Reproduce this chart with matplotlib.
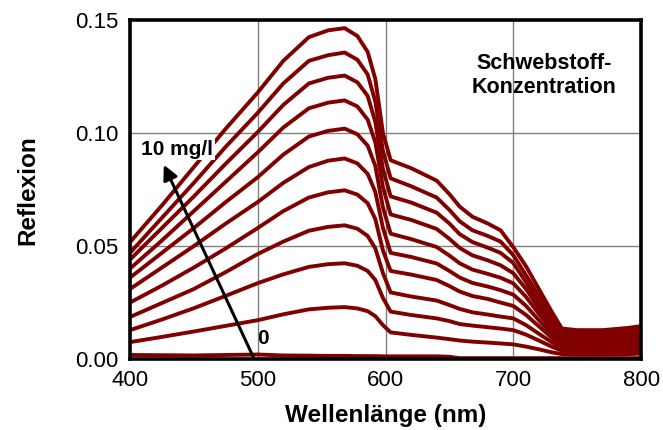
import numpy as np
import matplotlib
matplotlib.use("Agg")
import matplotlib.pyplot as plt

wl = [400, 425, 450, 475, 500, 520, 540, 555, 568, 578, 586, 592, 598, 604, 620,
      640, 650, 658, 668, 680, 690, 700, 710, 720, 730, 738, 750, 770, 790, 800]

# reflexion for each concentration, 0 mg/l ... 10 mg/l
c0 = [0.0018, 0.0017, 0.0016, 0.0018, 0.0020, 0.0016, 0.0015, 0.0014, 0.0014, 0.0013,
      0.0013, 0.0013, 0.0012, 0.0012, 0.0012, 0.0012, 0.0010, 0.0004, 0.0004, 0.0004,
      0.0004, 0.0004, 0.0004, 0.0004, 0.0004, 0.0004, 0.0004, 0.0004, 0.0004, 0.0004]
c1 = [0.0075, 0.0098, 0.0122, 0.0147, 0.0172, 0.0198, 0.0220, 0.0227, 0.0230, 0.0224,
      0.0212, 0.0190, 0.0150, 0.0118, 0.0107, 0.0095, 0.0088, 0.0082, 0.0077, 0.0073,
      0.0069, 0.0065, 0.0055, 0.0043, 0.0030, 0.0022, 0.0020, 0.0020, 0.0022, 0.0024]
c2 = [0.0128, 0.0175, 0.0225, 0.0280, 0.0336, 0.0375, 0.0408, 0.0420, 0.0424, 0.0413,
      0.0390, 0.0350, 0.0270, 0.0210, 0.0195, 0.0180, 0.0168, 0.0155, 0.0148, 0.0141,
      0.0135, 0.0128, 0.0108, 0.0082, 0.0055, 0.0037, 0.0033, 0.0033, 0.0036, 0.0039]
c3 = [0.0186, 0.0248, 0.0310, 0.0385, 0.0465, 0.0520, 0.0568, 0.0585, 0.0592, 0.0577,
      0.0545, 0.0490, 0.0380, 0.0295, 0.0277, 0.0259, 0.0239, 0.0222, 0.0207, 0.0197,
      0.0188, 0.0180, 0.0150, 0.0112, 0.0075, 0.0050, 0.0045, 0.0045, 0.0048, 0.0052]
c4 = [0.0250, 0.0325, 0.0405, 0.0490, 0.0580, 0.0655, 0.0715, 0.0738, 0.0747, 0.0728,
      0.0690, 0.0620, 0.0480, 0.0390, 0.0374, 0.0350, 0.0323, 0.0299, 0.0279, 0.0266,
      0.0250, 0.0235, 0.0195, 0.0145, 0.0095, 0.0062, 0.0056, 0.0056, 0.0060, 0.0065]
c5 = [0.0310, 0.0405, 0.0500, 0.0600, 0.0695, 0.0780, 0.0850, 0.0878, 0.0888, 0.0866,
      0.0820, 0.0740, 0.0580, 0.0470, 0.0452, 0.0423, 0.0390, 0.0361, 0.0337, 0.0321,
      0.0305, 0.0285, 0.0235, 0.0172, 0.0112, 0.0074, 0.0068, 0.0068, 0.0073, 0.0079]
c6 = [0.0360, 0.0470, 0.0580, 0.0695, 0.0805, 0.0905, 0.0985, 0.1010, 0.1020, 0.0995,
      0.0945, 0.0855, 0.0670, 0.0555, 0.0531, 0.0496, 0.0458, 0.0424, 0.0396, 0.0377,
      0.0360, 0.0335, 0.0275, 0.0200, 0.0130, 0.0086, 0.0080, 0.0080, 0.0086, 0.0092]
c7 = [0.0400, 0.0525, 0.0655, 0.0785, 0.0915, 0.1025, 0.1110, 0.1135, 0.1145, 0.1118,
      0.1060, 0.0960, 0.0760, 0.0640, 0.0616, 0.0576, 0.0532, 0.0492, 0.0459, 0.0437,
      0.0415, 0.0380, 0.0310, 0.0225, 0.0150, 0.0098, 0.0092, 0.0092, 0.0099, 0.0105]
c8 = [0.0440, 0.0580, 0.0720, 0.0865, 0.1005, 0.1125, 0.1220, 0.1245, 0.1255, 0.1225,
      0.1165, 0.1050, 0.0840, 0.0720, 0.0693, 0.0648, 0.0600, 0.0553, 0.0518, 0.0493,
      0.0470, 0.0425, 0.0340, 0.0250, 0.0170, 0.0110, 0.0104, 0.0104, 0.0112, 0.0119]
c9 = [0.0470, 0.0625, 0.0780, 0.0940, 0.1090, 0.1220, 0.1320, 0.1345, 0.1357, 0.1325,
      0.1260, 0.1140, 0.0920, 0.0800, 0.0765, 0.0715, 0.0660, 0.0610, 0.0570, 0.0545,
      0.0520, 0.0460, 0.0370, 0.0280, 0.0190, 0.0123, 0.0116, 0.0116, 0.0125, 0.0132]
c10 = [0.0517, 0.0680, 0.0850, 0.1020, 0.1180, 0.1320, 0.1425, 0.1455, 0.1465, 0.1430,
       0.1360, 0.1240, 0.1000, 0.0880, 0.0845, 0.0790, 0.0730, 0.0675, 0.0630, 0.0600,
       0.0570, 0.0495, 0.0410, 0.0310, 0.0210, 0.0135, 0.0128, 0.0128, 0.0138, 0.0146]

curves = [c0, c1, c2, c3, c4, c5, c6, c7, c8, c9, c10]

xticks = [400, 500, 600, 700, 800]
yticks = [0.00, 0.05, 0.10, 0.15]

plt.rcParams['font.family'] = ['Liberation Sans', 'DejaVu Sans']

fig = plt.figure(figsize=(6.63, 4.30), dpi=100)
ax = fig.add_axes([0.196, 0.165, 0.771, 0.788])

for c in curves:
    ax.plot(wl, c, color='#800000', lw=2.8, solid_joinstyle='round',
            solid_capstyle='butt', zorder=3)

ax.set_xlim(400, 800)
ax.set_ylim(0, 0.15)
ax.set_xticks(xticks)
ax.set_yticks(yticks)
ax.set_yticklabels(["%.2f" % v for v in yticks])
ax.tick_params(length=0, labelsize=16, pad=8)
ax.grid(True, color='#808080', lw=1.0, zorder=1)

for s in ax.spines.values():
    s.set_linewidth(2.6)
    s.set_color('black')
    s.set_zorder(5)

ax.set_xlabel("Wellenlänge (nm)", fontsize=17.5, fontweight='bold', labelpad=9)
ax.set_ylabel("Reflexion", fontsize=17.5, fontweight='bold', labelpad=26)

# arrow from 0 up to 10 mg/l
ax.annotate("", xy=(426.5, 0.086), xytext=(497, 0.0003),
            arrowprops=dict(arrowstyle='-|>', color='black', lw=2.2,
                            mutation_scale=22, shrinkA=0, shrinkB=0), zorder=6)
ax.text(437, 0.0928, "10 mg/l", fontsize=15, fontweight='bold', ha='center', va='center',
        bbox=dict(facecolor='white', edgecolor='none', pad=1), zorder=7)
ax.text(504, 0.0093, "0", fontsize=15, fontweight='bold', ha='center', va='center', zorder=7)
ax.text(724, 0.1255, "Schwebstoff-\nKonzentration", fontsize=15.5, fontweight='bold',
        ha='center', va='center', linespacing=1.15, zorder=7)

fig.savefig("out.png", dpi=100, facecolor='white')
